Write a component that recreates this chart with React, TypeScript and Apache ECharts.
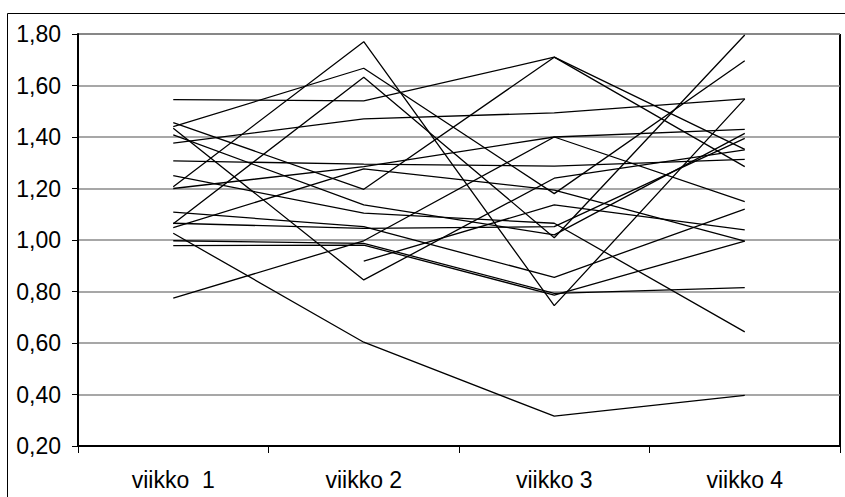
import React, { useEffect, useRef } from "react";
import * as echarts from "echarts";

const categories = ["viikko  1", "viikko 2", "viikko 3", "viikko 4"];
const yTicks = [0.2, 1.8, 0.2]; // min, max, interval

const s1 = [1.545, 1.54, 1.71, 1.352];
const s2 = [1.44, 1.667, 1.18, 1.696];
const s3 = [1.207, 1.77, 0.745, 1.548];
const s4 = [1.063, 1.632, 1.009, 1.796];
const s5 = [1.376, 1.47, 1.494, 1.548];
const s6 = [1.307, 1.295, 1.287, 1.313];
const s7 = [1.2, 1.285, 1.4, 1.43];
const s8 = [0.774, 0.997, 1.4, 1.149];
const s9 = [1.456, 1.197, 1.71, 1.285];
const s10 = [1.434, 0.845, 1.24, 1.35];
const s11 = [null, 0.918, 1.136, 1.039];
const s12 = [1.408, 1.136, 1.02, 1.414];
const s13 = [1.25, 1.104, 1.065, 0.643];
const s14 = [1.108, 1.052, 0.855, 1.12];
const s15 = [1.048, 1.276, 1.194, 0.996];
const s16 = [1.065, 1.045, 1.052, 1.395];
const s17 = [1.026, 0.603, 0.316, 0.397];
const s18 = [0.997, 0.987, 0.793, 0.815];
const s19 = [0.978, 0.98, 0.786, 0.996];

const allSeries = [s1, s2, s3, s4, s5, s6, s7, s8, s9, s10, s11, s12, s13, s14, s15, s16, s17, s18, s19];

const FONT = "'Liberation Sans', Arial, sans-serif";

export default function App() {
  const ref = useRef<HTMLDivElement>(null);
  useEffect(() => {
    if (!ref.current) return;
    const chart = echarts.init(ref.current, null, { renderer: "svg" });
    chart.setOption({
      animation: false,
      backgroundColor: "#ffffff",
      grid: {
        left: 78,
        right: 5,
        top: 34,
        bottom: 51,
        show: true,
        borderColor: "#000",
        borderWidth: 1,
        containLabel: false,
      },
      xAxis: {
        type: "category",
        data: categories,
        boundaryGap: true,
        axisLine: { lineStyle: { color: "#000", width: 2 } },
        axisTick: { show: true, alignWithLabel: false, length: 7, lineStyle: { color: "#000", width: 1 } },
        axisLabel: { color: "#000", fontSize: 23, fontFamily: FONT, margin: 22 },
        splitLine: { show: false },
      },
      yAxis: {
        type: "value",
        min: yTicks[0],
        max: yTicks[1],
        interval: yTicks[2],
        axisLine: { show: true, lineStyle: { color: "#000", width: 2 } },
        axisTick: { show: true, length: 6, lineStyle: { color: "#000", width: 1 } },
        axisLabel: {
          color: "#000",
          fontSize: 23,
          fontFamily: FONT,
          margin: 17,
          formatter: (v: number) => v.toFixed(2).replace(".", ","),
        },
        splitLine: { show: true, lineStyle: { color: "#8a8a8a", width: 1.5 } },
      },
      graphic: [
        {
          type: "rect",
          shape: { x: 7.5, y: 13.5, width: 900, height: 600 },
          style: { fill: "none", stroke: "#000", lineWidth: 1 },
          silent: true,
        },
        {
          type: "line",
          shape: { x1: 840, y1: 34, x2: 840, y2: 447 },
          style: { stroke: "#000", lineWidth: 2 },
          silent: true,
        },
      ],
      series: allSeries.map((d, i) => ({
        name: "s" + (i + 1),
        type: "line",
        data: d,
        symbol: "none",
        connectNulls: false,
        lineStyle: { color: "#000", width: 1.3 },
        z: 3,
      })),
    });
    return () => chart.dispose();
  }, []);
  return (
    <div
      ref={ref}
      style={{ position: "fixed", left: 0, top: 0, width: 845, height: 497, background: "#fff" }}
    />
  );
}
